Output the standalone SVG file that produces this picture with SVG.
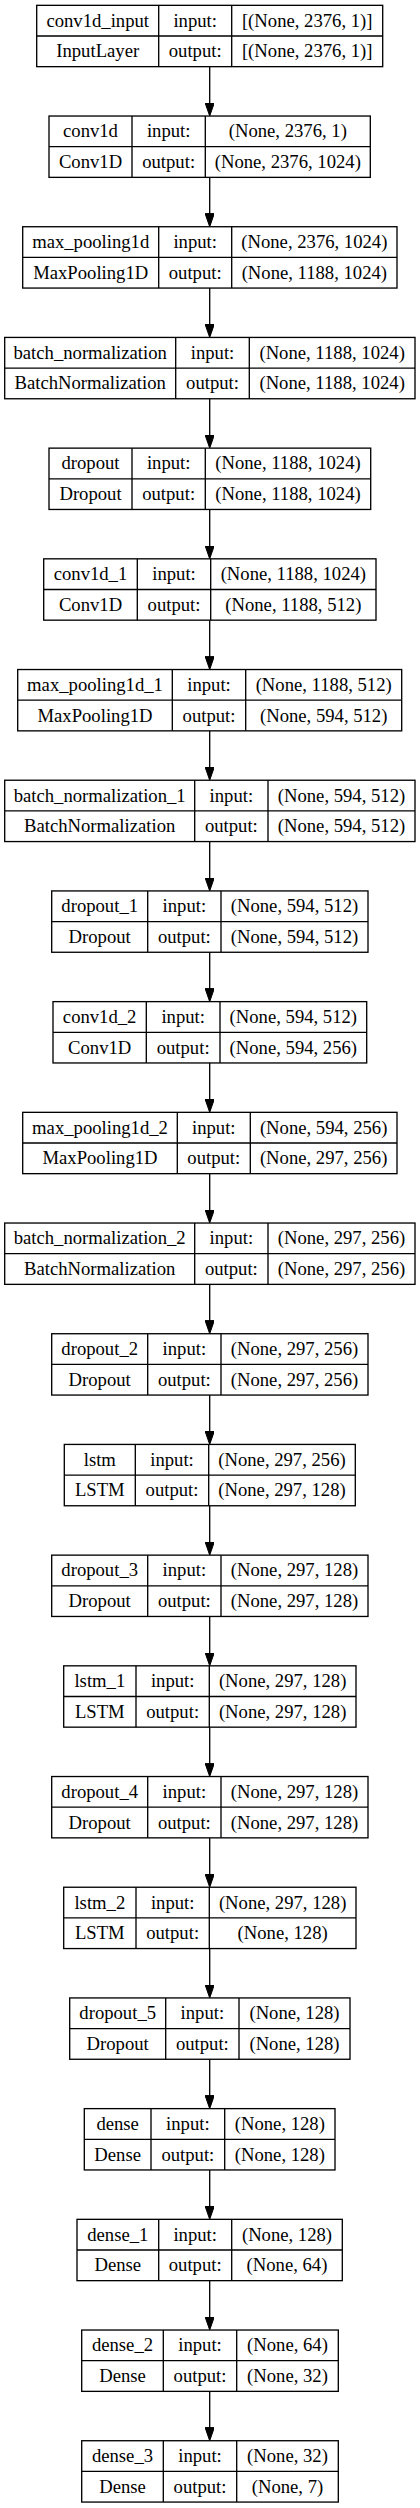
<svg xmlns="http://www.w3.org/2000/svg" width="420" height="2508" viewBox="0 0 420 2508">
<style>
.box{fill:#fff;stroke:#000;stroke-width:1.33}
.ln{stroke:#000;stroke-width:1.33;fill:none}
text{font-family:"Liberation Serif","Times New Roman",serif;font-size:18.67px;fill:#000;text-anchor:middle}
.edge{stroke:#000;stroke-width:1.33;fill:none;marker-end:url(#arr)}
</style>
<defs>
<marker id="arr" viewBox="0 0 13.33 9.33" refX="11.33" refY="4.67" markerWidth="13.33" markerHeight="9.33" markerUnits="userSpaceOnUse" orient="auto">
<path d="M0,0 L13.33,4.67 L0,9.33 z" fill="#000" stroke="#000" stroke-width="1"/>
</marker>
</defs>
<rect width="420" height="2508" fill="#fff"/>
<g id="connectors">
<path class="edge" d="M209.7,66.66 V114.03"/>
<path class="edge" d="M209.7,177.36 V224.73"/>
<path class="edge" d="M209.7,288.06 V335.43"/>
<path class="edge" d="M209.7,398.76 V446.13"/>
<path class="edge" d="M209.7,509.46 V556.83"/>
<path class="edge" d="M209.7,620.16 V667.53"/>
<path class="edge" d="M209.7,730.86 V778.23"/>
<path class="edge" d="M209.7,841.56 V888.93"/>
<path class="edge" d="M209.7,952.26 V999.63"/>
<path class="edge" d="M209.7,1062.96 V1110.33"/>
<path class="edge" d="M209.7,1173.66 V1221.03"/>
<path class="edge" d="M209.7,1284.36 V1331.73"/>
<path class="edge" d="M209.7,1395.06 V1442.43"/>
<path class="edge" d="M209.7,1505.76 V1553.13"/>
<path class="edge" d="M209.7,1616.46 V1663.83"/>
<path class="edge" d="M209.7,1727.16 V1774.53"/>
<path class="edge" d="M209.7,1837.86 V1885.23"/>
<path class="edge" d="M209.7,1948.56 V1995.93"/>
<path class="edge" d="M209.7,2059.26 V2106.63"/>
<path class="edge" d="M209.7,2169.96 V2217.33"/>
<path class="edge" d="M209.7,2280.66 V2328.03"/>
<path class="edge" d="M209.7,2391.36 V2438.73"/>
</g>

<g id="conv1d_input" transform="translate(0,5.33)">
<rect class="box" x="36.7" y="0" width="346" height="61.33"/>
<path class="ln" d="M36.7,30.67 H382.7 M158.7,0 V61.33 M231.7,0 V61.33"/>
<text x="97.7" y="21.3">conv1d_input</text><text x="195.2" y="21.3">input:</text><text x="307.2" y="21.3">[(None, 2376, 1)]</text>
<text x="97.7" y="52">InputLayer</text><text x="195.2" y="52">output:</text><text x="307.2" y="52">[(None, 2376, 1)]</text>
</g>

<g id="conv1d" transform="translate(0,116.03)">
<rect class="box" x="49" y="0" width="321.3" height="61.33"/>
<path class="ln" d="M49,30.67 H370.3 M132,0 V61.33 M205.3,0 V61.33"/>
<text x="90.5" y="21.3">conv1d</text><text x="168.65" y="21.3">input:</text><text x="287.8" y="21.3">(None, 2376, 1)</text>
<text x="90.5" y="52">Conv1D</text><text x="168.65" y="52">output:</text><text x="287.8" y="52">(None, 2376, 1024)</text>
</g>

<g id="max_pooling1d" transform="translate(0,226.73)">
<rect class="box" x="22.7" y="0" width="374.3" height="61.33"/>
<path class="ln" d="M22.7,30.67 H397 M158.7,0 V61.33 M231.7,0 V61.33"/>
<text x="90.7" y="21.3">max_pooling1d</text><text x="195.2" y="21.3">input:</text><text x="314.35" y="21.3">(None, 2376, 1024)</text>
<text x="90.7" y="52">MaxPooling1D</text><text x="195.2" y="52">output:</text><text x="314.35" y="52">(None, 1188, 1024)</text>
</g>

<g id="batch_normalization" transform="translate(0,337.43)">
<rect class="box" x="4.7" y="0" width="410.3" height="61.33"/>
<path class="ln" d="M4.7,30.67 H415 M175.7,0 V61.33 M249.3,0 V61.33"/>
<text x="90.2" y="21.3">batch_normalization</text><text x="212.5" y="21.3">input:</text><text x="332.15" y="21.3">(None, 1188, 1024)</text>
<text x="90.2" y="52">BatchNormalization</text><text x="212.5" y="52">output:</text><text x="332.15" y="52">(None, 1188, 1024)</text>
</g>

<g id="dropout" transform="translate(0,448.13)">
<rect class="box" x="49" y="0" width="321.7" height="61.33"/>
<path class="ln" d="M49,30.67 H370.7 M132,0 V61.33 M205.3,0 V61.33"/>
<text x="90.5" y="21.3">dropout</text><text x="168.65" y="21.3">input:</text><text x="288" y="21.3">(None, 1188, 1024)</text>
<text x="90.5" y="52">Dropout</text><text x="168.65" y="52">output:</text><text x="288" y="52">(None, 1188, 1024)</text>
</g>

<g id="conv1d_1" transform="translate(0,558.83)">
<rect class="box" x="43.7" y="0" width="332.3" height="61.33"/>
<path class="ln" d="M43.7,30.67 H376 M137.3,0 V61.33 M210.7,0 V61.33"/>
<text x="90.5" y="21.3">conv1d_1</text><text x="174" y="21.3">input:</text><text x="293.35" y="21.3">(None, 1188, 1024)</text>
<text x="90.5" y="52">Conv1D</text><text x="174" y="52">output:</text><text x="293.35" y="52">(None, 1188, 512)</text>
</g>

<g id="max_pooling1d_1" transform="translate(0,669.53)">
<rect class="box" x="17.7" y="0" width="384" height="61.33"/>
<path class="ln" d="M17.7,30.67 H401.7 M172.3,0 V61.33 M245.7,0 V61.33"/>
<text x="95" y="21.3">max_pooling1d_1</text><text x="209" y="21.3">input:</text><text x="323.7" y="21.3">(None, 1188, 512)</text>
<text x="95" y="52">MaxPooling1D</text><text x="209" y="52">output:</text><text x="323.7" y="52">(None, 594, 512)</text>
</g>

<g id="batch_normalization_1" transform="translate(0,780.23)">
<rect class="box" x="4.7" y="0" width="410.3" height="61.33"/>
<path class="ln" d="M4.7,30.67 H415 M194.7,0 V61.33 M268,0 V61.33"/>
<text x="99.7" y="21.3">batch_normalization_1</text><text x="231.35" y="21.3">input:</text><text x="341.5" y="21.3">(None, 594, 512)</text>
<text x="99.7" y="52">BatchNormalization</text><text x="231.35" y="52">output:</text><text x="341.5" y="52">(None, 594, 512)</text>
</g>

<g id="dropout_1" transform="translate(0,890.93)">
<rect class="box" x="51.7" y="0" width="316.3" height="61.33"/>
<path class="ln" d="M51.7,30.67 H368 M147.7,0 V61.33 M221,0 V61.33"/>
<text x="99.7" y="21.3">dropout_1</text><text x="184.35" y="21.3">input:</text><text x="294.5" y="21.3">(None, 594, 512)</text>
<text x="99.7" y="52">Dropout</text><text x="184.35" y="52">output:</text><text x="294.5" y="52">(None, 594, 512)</text>
</g>

<g id="conv1d_2" transform="translate(0,1001.63)">
<rect class="box" x="53" y="0" width="313.7" height="61.33"/>
<path class="ln" d="M53,30.67 H366.7 M146.3,0 V61.33 M220,0 V61.33"/>
<text x="99.65" y="21.3">conv1d_2</text><text x="183.15" y="21.3">input:</text><text x="293.35" y="21.3">(None, 594, 512)</text>
<text x="99.65" y="52">Conv1D</text><text x="183.15" y="52">output:</text><text x="293.35" y="52">(None, 594, 256)</text>
</g>

<g id="max_pooling1d_2" transform="translate(0,1112.33)">
<rect class="box" x="22.7" y="0" width="374.3" height="61.33"/>
<path class="ln" d="M22.7,30.67 H397 M177.3,0 V61.33 M250.3,0 V61.33"/>
<text x="100" y="21.3">max_pooling1d_2</text><text x="213.8" y="21.3">input:</text><text x="323.65" y="21.3">(None, 594, 256)</text>
<text x="100" y="52">MaxPooling1D</text><text x="213.8" y="52">output:</text><text x="323.65" y="52">(None, 297, 256)</text>
</g>

<g id="batch_normalization_2" transform="translate(0,1223.03)">
<rect class="box" x="4.7" y="0" width="410.3" height="61.33"/>
<path class="ln" d="M4.7,30.67 H415 M194.7,0 V61.33 M268,0 V61.33"/>
<text x="99.7" y="21.3">batch_normalization_2</text><text x="231.35" y="21.3">input:</text><text x="341.5" y="21.3">(None, 297, 256)</text>
<text x="99.7" y="52">BatchNormalization</text><text x="231.35" y="52">output:</text><text x="341.5" y="52">(None, 297, 256)</text>
</g>

<g id="dropout_2" transform="translate(0,1333.73)">
<rect class="box" x="51.7" y="0" width="316.3" height="61.33"/>
<path class="ln" d="M51.7,30.67 H368 M147.7,0 V61.33 M221,0 V61.33"/>
<text x="99.7" y="21.3">dropout_2</text><text x="184.35" y="21.3">input:</text><text x="294.5" y="21.3">(None, 297, 256)</text>
<text x="99.7" y="52">Dropout</text><text x="184.35" y="52">output:</text><text x="294.5" y="52">(None, 297, 256)</text>
</g>

<g id="lstm" transform="translate(0,1444.43)">
<rect class="box" x="64.3" y="0" width="291" height="61.33"/>
<path class="ln" d="M64.3,30.67 H355.3 M135.3,0 V61.33 M208.7,0 V61.33"/>
<text x="99.8" y="21.3">lstm</text><text x="172" y="21.3">input:</text><text x="282" y="21.3">(None, 297, 256)</text>
<text x="99.8" y="52">LSTM</text><text x="172" y="52">output:</text><text x="282" y="52">(None, 297, 128)</text>
</g>

<g id="dropout_3" transform="translate(0,1555.13)">
<rect class="box" x="51.7" y="0" width="316.3" height="61.33"/>
<path class="ln" d="M51.7,30.67 H368 M147.7,0 V61.33 M221,0 V61.33"/>
<text x="99.7" y="21.3">dropout_3</text><text x="184.35" y="21.3">input:</text><text x="294.5" y="21.3">(None, 297, 128)</text>
<text x="99.7" y="52">Dropout</text><text x="184.35" y="52">output:</text><text x="294.5" y="52">(None, 297, 128)</text>
</g>

<g id="lstm_1" transform="translate(0,1665.83)">
<rect class="box" x="63.7" y="0" width="292.3" height="61.33"/>
<path class="ln" d="M63.7,30.67 H356 M136,0 V61.33 M209.3,0 V61.33"/>
<text x="99.85" y="21.3">lstm_1</text><text x="172.65" y="21.3">input:</text><text x="282.65" y="21.3">(None, 297, 128)</text>
<text x="99.85" y="52">LSTM</text><text x="172.65" y="52">output:</text><text x="282.65" y="52">(None, 297, 128)</text>
</g>

<g id="dropout_4" transform="translate(0,1776.53)">
<rect class="box" x="51.7" y="0" width="316.3" height="61.33"/>
<path class="ln" d="M51.7,30.67 H368 M147.7,0 V61.33 M221,0 V61.33"/>
<text x="99.7" y="21.3">dropout_4</text><text x="184.35" y="21.3">input:</text><text x="294.5" y="21.3">(None, 297, 128)</text>
<text x="99.7" y="52">Dropout</text><text x="184.35" y="52">output:</text><text x="294.5" y="52">(None, 297, 128)</text>
</g>

<g id="lstm_2" transform="translate(0,1887.23)">
<rect class="box" x="63.7" y="0" width="292.3" height="61.33"/>
<path class="ln" d="M63.7,30.67 H356 M136,0 V61.33 M209.3,0 V61.33"/>
<text x="99.85" y="21.3">lstm_2</text><text x="172.65" y="21.3">input:</text><text x="282.65" y="21.3">(None, 297, 128)</text>
<text x="99.85" y="52">LSTM</text><text x="172.65" y="52">output:</text><text x="282.65" y="52">(None, 128)</text>
</g>

<g id="dropout_5" transform="translate(0,1997.93)">
<rect class="box" x="69.7" y="0" width="280.3" height="61.33"/>
<path class="ln" d="M69.7,30.67 H350 M165.7,0 V61.33 M239,0 V61.33"/>
<text x="117.7" y="21.3">dropout_5</text><text x="202.35" y="21.3">input:</text><text x="294.5" y="21.3">(None, 128)</text>
<text x="117.7" y="52">Dropout</text><text x="202.35" y="52">output:</text><text x="294.5" y="52">(None, 128)</text>
</g>

<g id="dense" transform="translate(0,2108.63)">
<rect class="box" x="84.3" y="0" width="250.7" height="61.33"/>
<path class="ln" d="M84.3,30.67 H335 M151,0 V61.33 M224.7,0 V61.33"/>
<text x="117.65" y="21.3">dense</text><text x="187.85" y="21.3">input:</text><text x="279.85" y="21.3">(None, 128)</text>
<text x="117.65" y="52">Dense</text><text x="187.85" y="52">output:</text><text x="279.85" y="52">(None, 128)</text>
</g>

<g id="dense_1" transform="translate(0,2219.33)">
<rect class="box" x="77" y="0" width="265.3" height="61.33"/>
<path class="ln" d="M77,30.67 H342.3 M158.7,0 V61.33 M231.7,0 V61.33"/>
<text x="117.85" y="21.3">dense_1</text><text x="195.2" y="21.3">input:</text><text x="287" y="21.3">(None, 128)</text>
<text x="117.85" y="52">Dense</text><text x="195.2" y="52">output:</text><text x="287" y="52">(None, 64)</text>
</g>

<g id="dense_2" transform="translate(0,2330.03)">
<rect class="box" x="81.7" y="0" width="256.6" height="61.33"/>
<path class="ln" d="M81.7,30.67 H338.3 M163.3,0 V61.33 M236.7,0 V61.33"/>
<text x="122.5" y="21.3">dense_2</text><text x="200" y="21.3">input:</text><text x="287.5" y="21.3">(None, 64)</text>
<text x="122.5" y="52">Dense</text><text x="200" y="52">output:</text><text x="287.5" y="52">(None, 32)</text>
</g>

<g id="dense_3" transform="translate(0,2440.73)">
<rect class="box" x="81.7" y="0" width="256.6" height="61.33"/>
<path class="ln" d="M81.7,30.67 H338.3 M163.3,0 V61.33 M236.7,0 V61.33"/>
<text x="122.5" y="21.3">dense_3</text><text x="200" y="21.3">input:</text><text x="287.5" y="21.3">(None, 32)</text>
<text x="122.5" y="52">Dense</text><text x="200" y="52">output:</text><text x="287.5" y="52">(None, 7)</text>
</g>
</svg>
